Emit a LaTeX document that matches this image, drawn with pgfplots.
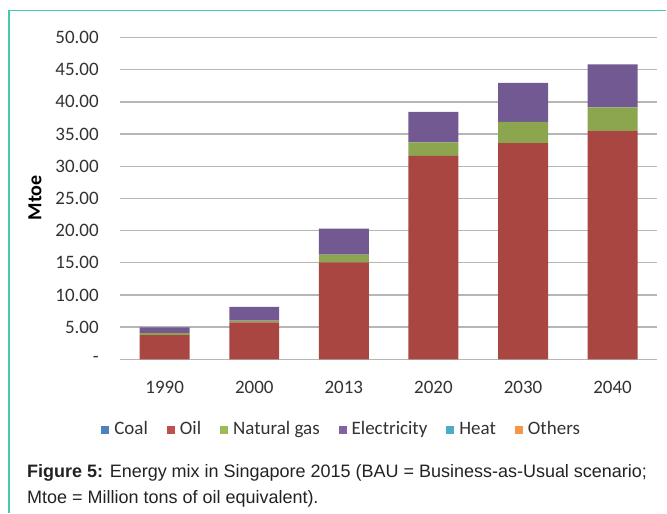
\documentclass[border=0pt]{standalone}
\usepackage{fontspec}
\setmainfont{Carlito}
\newfontfamily\capfont{Liberation Sans}
\usepackage{pgfplots}
\pgfplotsset{compat=1.18}

\definecolor{frameteal}{RGB}{72,200,180}
\definecolor{gridgray}{RGB}{182,182,182}
\definecolor{txt}{RGB}{50,50,50}
% bar colours (shaded) and legend colours (flat)
\definecolor{oilbar}{RGB}{170,70,66}
\definecolor{gasbar}{RGB}{139,166,78}
\definecolor{elecbar}{RGB}{114,89,146}
\definecolor{coalL}{RGB}{79,129,189}
\definecolor{oilL}{RGB}{192,80,77}
\definecolor{gasL}{RGB}{155,187,89}
\definecolor{elecL}{RGB}{128,100,162}
\definecolor{heatL}{RGB}{75,172,198}
\definecolor{otherL}{RGB}{247,150,70}

\newcommand{\sq}[1]{\fill[#1] (0pt,-4pt) rectangle (8pt,4pt);}

\begin{document}
\begin{tikzpicture}
\path (0,0) rectangle (667pt,513pt);
\draw[frameteal, line width=1.2pt] (9pt,0) -- (9pt,502.7pt) -- (667pt,502.7pt);

\begin{axis}[
    at={(120pt,153.4pt)}, anchor=south west,
    scale only axis, width=538pt, height=322pt,
    ybar stacked, bar width=50pt,
    xmin=-0.5, xmax=5.5, ymin=0, ymax=50,
    xtick={0,...,5},
    xticklabels={1990,2000,2013,2020,2030,2040},
    ytick={0,5,...,50},
    yticklabels={-,5.00,10.00,15.00,20.00,25.00,30.00,35.00,40.00,45.00,50.00},
    major tick length=0pt,
    ymajorgrids, major grid style={gridgray, line width=1.3pt},
    axis x line*=bottom, axis y line*=left,
    x axis line style={gridgray, line width=1.3pt},
    y axis line style={draw=none},
    font=\fontsize{19}{23}\selectfont,
    tick label style={text=txt},
    yticklabel style={anchor=east, inner sep=0pt, xshift=-21pt},
    xticklabel style={anchor=center, inner sep=0pt, yshift=-28pt},
    legend columns=-1,
    legend style={draw=none, at={(axis description cs:0.4126,-0.2186)}, anchor=center,
        font=\fontsize{19}{23}\selectfont, text=txt,
        nodes={text height=13pt, text depth=4pt},
        /tikz/every odd column/.append style={column sep=3pt},
        /tikz/every even column/.append style={column sep=17pt}},
    legend cell align=left,
  ]
\addplot[draw=none, fill=coalL, legend image code/.code={\sq{coalL}}]
  coordinates {(0,0) (1,0) (2,0) (3,0) (4,0) (5,0)};
\addlegendentry{Coal}
\addplot[draw=none, fill=oilbar, legend image code/.code={\sq{oilL}}]
  coordinates {(0,3.77) (1,5.73) (2,15.05) (3,31.6) (4,33.6) (5,35.45)};
\addlegendentry{Oil}
\addplot[draw=none, fill=gasbar, legend image code/.code={\sq{gasL}}]
  coordinates {(0,0.30) (1,0.27) (2,1.20) (3,2.10) (4,3.30) (5,3.70)};
\addlegendentry{Natural gas}
\addplot[draw=none, fill=elecbar, legend image code/.code={\sq{elecL}}]
  coordinates {(0,0.90) (1,2.15) (2,4.05) (3,4.75) (4,6.05) (5,6.70)};
\addlegendentry{Electricity}
\addplot[draw=none, fill=heatL, legend image code/.code={\sq{heatL}}]
  coordinates {(0,0) (1,0) (2,0) (3,0) (4,0) (5,0)};
\addlegendentry{Heat}
\addplot[draw=none, fill=otherL, legend image code/.code={\sq{otherL}}]
  coordinates {(0,0) (1,0) (2,0) (3,0) (4,0) (5,0)};
\addlegendentry{Others}
\end{axis}

% y axis title
\node[rotate=90, anchor=center, inner sep=0pt, font=\fontsize{20}{24}\selectfont\bfseries]
  at (35pt,315pt) {Mtoe};

\node[anchor=base west, inner sep=0pt, text={rgb,255:red,34;green,34;blue,34},
      font=\capfont\fontsize{18}{22}\selectfont] at (27pt,35.3pt)
  {\textbf{Figure 5:} Energy mix in Singapore 2015 (BAU = Business-as-Usual scenario;};
\node[anchor=base west, inner sep=0pt, text={rgb,255:red,34;green,34;blue,34},
      font=\capfont\fontsize{18}{22}\selectfont] at (27pt,8.7pt)
  {Mtoe = Million tons of oil equivalent).};
\end{tikzpicture}
\end{document}
